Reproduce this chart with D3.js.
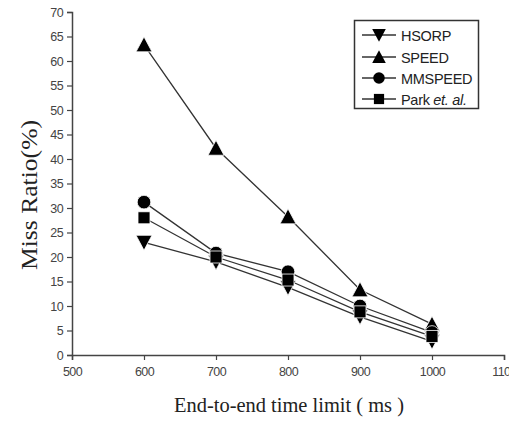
<!DOCTYPE html>
<html>
<head>
<meta charset="utf-8">
<script src="https://cdn.jsdelivr.net/npm/d3@7"></script>
<style>
body { margin: 0; background: #fff; overflow: hidden; }
svg { display: block; }
.tick text { font-family: Arial, "Liberation Sans", sans-serif; font-size: 12.5px; fill: #444; letter-spacing: -0.6px; }
</style>
</head>
<body>
<svg width="509" height="421"></svg>
<script>
// Miss ratio vs end-to-end time limit

var limits = [600, 700, 800, 900, 1000]
var hsorp = [23, 19, 13.8, 7.8, 2.8]
var speed = [63.3, 42.2, 28.2, 13.3, 6.3]
var mmspeed = [31.2, 20.8, 17, 10, 4.6]
var park = [28, 20, 15.3, 8.8, 3.8]

var seriesNames = ['HSORP', 'SPEED', 'MMSPEED', 'Park']
var seriesValues = [hsorp, speed, mmspeed, park]
var seriesSymbols = ['triDown', 'triUp', 'circle', 'square']

var xTicks = [500, 600, 700, 800, 900, 1000, 1100]
var yTicks = d3.range(0, 71, 5)

var svg = d3.select('svg')

var x = d3.scaleLinear().domain([500, 1100]).range([72, 504])
var y = d3.scaleLinear().domain([0, 70]).range([355, 12])

var xAxis = d3.axisBottom(x).tickValues(xTicks).tickSize(5).tickPadding(7).tickFormat(d3.format('d'))
var yAxis = d3.axisLeft(y).tickValues(yTicks).tickSize(5).tickPadding(4).tickFormat(d3.format('d'))

svg.append('g')
	.attr('transform', 'translate(0,' + y(0) + ')')
	.call(xAxis)
	.call(function(g) { g.select('.domain').attr('stroke', '#444').attr('stroke-width', 1.5) })
	.call(function(g) { g.selectAll('.tick line').attr('stroke', '#444').attr('stroke-width', 1.2) })

svg.append('g')
	.attr('transform', 'translate(' + x(500) + ',0)')
	.call(yAxis)
	.call(function(g) { g.select('.domain').attr('stroke', '#444').attr('stroke-width', 1.5) })
	.call(function(g) { g.selectAll('.tick line').attr('stroke', '#444').attr('stroke-width', 1.2) })

// axis titles
svg.append('text')
	.attr('x', 289).attr('y', 412)
	.attr('text-anchor', 'middle')
	.attr('font-family', '"Liberation Serif", "Times New Roman", serif')
	.attr('font-size', 20)
	.attr('fill', '#222')
	.attr('textLength', 230)
	.attr('lengthAdjust', 'spacingAndGlyphs')
	.text('End-to-end time limit ( ms )')

svg.append('text')
	.attr('transform', 'translate(37,195) rotate(-90)')
	.attr('text-anchor', 'middle')
	.attr('font-family', '"Liberation Serif", "Times New Roman", serif')
	.attr('font-size', 23)
	.attr('fill', '#222')
	.attr('textLength', 150)
	.attr('lengthAdjust', 'spacingAndGlyphs')
	.text('Miss Ratio(%)')

function drawSymbol(g, type, cx, cy, s) {
	s = s || 1
	if (type == 'circle') {
		g.append('circle').attr('cx', cx).attr('cy', cy).attr('r', 6.8 * s)
	} else if (type == 'square') {
		g.append('rect').attr('x', cx - 6 * s).attr('y', cy - 6 * s)
			.attr('width', 12 * s).attr('height', 12 * s)
	} else if (type == 'triUp') {
		g.append('path').attr('d', 'M' + cx + ',' + (cy - 8 * s) + 'L' + (cx + 8 * s) + ',' + (cy + 7 * s) +
			'L' + (cx - 8 * s) + ',' + (cy + 7 * s) + 'Z')
	} else {
		g.append('path').attr('d', 'M' + cx + ',' + (cy + 8 * s) + 'L' + (cx + 8 * s) + ',' + (cy - 7 * s) +
			'L' + (cx - 8 * s) + ',' + (cy - 7 * s) + 'Z')
	}
}

var line = d3.line()
	.x(function(d, i) { return x(limits[i]) })
	.y(function(d) { return y(d) })

var lines = svg.append('g')
seriesValues.forEach(function(vals) {
	lines.append('path')
		.attr('d', line(vals))
		.attr('fill', 'none')
		.attr('stroke', '#fff')
		.attr('stroke-width', 3.5)
	lines.append('path')
		.attr('d', line(vals))
		.attr('fill', 'none')
		.attr('stroke', '#333')
		.attr('stroke-width', 1.3)
})

var marks = svg.append('g').attr('fill', '#000').attr('stroke', '#fff').attr('stroke-width', 0.8)
seriesValues.forEach(function(vals, k) {
	vals.forEach(function(v, i) {
		drawSymbol(marks, seriesSymbols[k], x(limits[i]), y(v))
	})
})

// legend
var legend = svg.append('g')
legend.append('rect')
	.attr('x', 354.5).attr('y', 20.5).attr('width', 124).attr('height', 88)
	.attr('fill', '#fff').attr('stroke', '#333').attr('stroke-width', 1.5)

var legendY = [35, 57, 78, 99]
seriesNames.forEach(function(name, k) {
	var ly = legendY[k]
	legend.append('line')
		.attr('x1', 362).attr('x2', 396).attr('y1', ly).attr('y2', ly)
		.attr('stroke', '#333').attr('stroke-width', 1.3)
	var sg = legend.append('g').attr('fill', '#000')
	drawSymbol(sg, seriesSymbols[k], 379, ly, 0.85)
	var t = legend.append('text')
		.attr('x', 401).attr('y', ly + 6)
		.attr('font-family', 'Arial, "Liberation Sans", sans-serif')
		.attr('font-size', 14.5)
		.attr('letter-spacing', -0.3)
		.attr('fill', '#222')
	if (name == 'Park') {
		t.append('tspan').text('Park ')
		t.append('tspan').attr('font-style', 'italic').text('et. al.')
	} else {
		t.text(name)
	}
})
</script>
</body>
</html>
